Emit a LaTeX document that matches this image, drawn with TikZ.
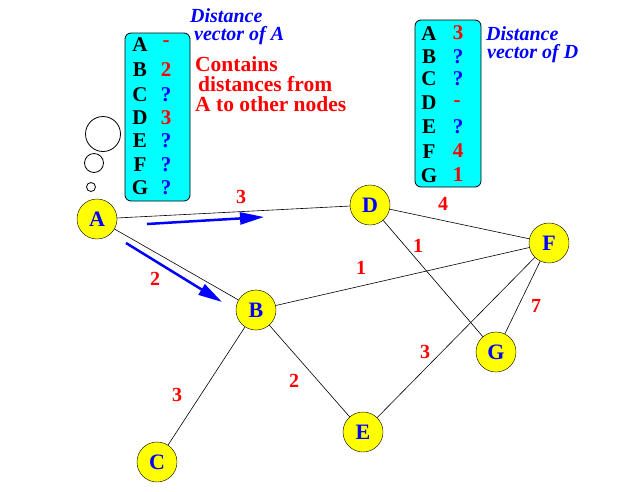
\documentclass[tikz,border=0pt]{standalone}
\usepackage{fontspec}
\setmainfont{Liberation Serif}
\usetikzlibrary{arrows.meta}
\definecolor{nodeyellow}{RGB}{255,255,0}
\definecolor{boxcyan}{RGB}{0,255,255}
\definecolor{txtblue}{RGB}{0,0,255}
\definecolor{txtred}{RGB}{255,0,0}
\begin{document}
\begin{tikzpicture}[x=1pt,y=-1pt,
  router/.style={circle,draw=black,fill=nodeyellow,minimum size=40pt,inner sep=0pt,
    font=\fontsize{22}{22}\selectfont\bfseries,text=txtblue},
  link/.style={draw=black,line width=0.6pt},
  cost/.style={font=\fontsize{20}{20}\selectfont\bfseries,text=txtred},
  vecbox/.style={draw=black,fill=boxcyan,rounded corners=6pt,line width=0.8pt},
  rowname/.style={font=\fontsize{21}{21}\selectfont\bfseries,text=black,inner sep=0pt},
  valred/.style={font=\fontsize{21}{21}\selectfont\bfseries,text=txtred,inner sep=0pt},
  valblue/.style={font=\fontsize{21}{21}\selectfont\bfseries,text=txtblue,inner sep=0pt},
  title/.style={font=\fontsize{20}{20}\selectfont\bfseries\itshape,text=txtblue,
    anchor=base west,inner sep=0pt},
  note/.style={font=\fontsize{21.5}{21.5}\selectfont\bfseries,text=txtred,
    anchor=base west,inner sep=0pt},
  flow/.style={draw=txtblue,line width=2.5pt,-{Triangle[length=24pt,width=12pt]}},
  bubble/.style={draw=black,line width=0.8pt,fill=white}
]
\useasboundingbox (0,0) rectangle (644,491);

% vector box of A
\draw[vecbox] (125,33) rectangle (190,201);
\foreach \n/\y in {A/45,B/70,C/95,D/118,E/141,F/165,G/188}
  \node[rowname] (ra\n) at (140,\y) {\n};
\node[valred]  (va1) at (166,44) {-};
\node[valred]  (va2) at (166,70) {2};
\node[valblue] (va3) at (166,95) {?};
\node[valred]  (va4) at (166,118) {3};
\node[valblue] (va5) at (166,141) {?};
\node[valblue] (va6) at (166,165) {?};
\node[valblue] (va7) at (166,188) {?};
\node[title] (ta1) at (190,22) {Distance};
\node[title] (ta2) at (194,40) {vector of A};
\node[note] (na1) at (195,71) {Contains};
\node[note] (na2) at (198,91) {distances from};
\node[note] (na3) at (195,111) {A to other nodes};

% thought bubbles
\draw[bubble] (103,134) circle (17.5);
\draw[bubble] (94,163) circle (9.5);
\draw[bubble] (91,187) circle (4.5);

% vector box of D
\draw[vecbox] (415,20) rectangle (481,187);
\foreach \n/\y in {A/34,B/57,C/79,D/103,E/127,F/152,G/176}
  \node[rowname] (rd\n) at (429,\y) {\n};
\node[valred]  (vd1) at (458,33) {3};
\node[valblue] (vd2) at (458,57) {?};
\node[valblue] (vd3) at (458,79) {?};
\node[valred]  (vd4) at (457,104) {-};
\node[valblue] (vd5) at (458,127) {?};
\node[valred]  (vd6) at (458,151) {4};
\node[valred]  (vd7) at (458,175) {1};
\node[title] (td1) at (486,40) {Distance};
\node[title] (td2) at (487,58.5) {vector of D};

% routers
\node[router] (A) at (97,219) {A};
\node[router] (D) at (370,205) {D};
\node[router] (B) at (256,310) {B};
\node[router] (F) at (549,243) {F};
\node[router] (G) at (496,352) {G};
\node[router] (E) at (363,432) {E};
\node[router] (C) at (157,462) {C};

% links
\draw[link] (A) -- (D);
\draw[link] (A) -- (B);
\draw[link] (D) -- (F);
\draw[link] (D) -- (G);
\draw[link] (B) -- (F);
\draw[link] (B) -- (C);
\draw[link] (B) -- (E);
\draw[link] (E) -- (F);
\draw[link] (F) -- (G);

% costs
\node[cost] (c1) at (241,197) {3};
\node[cost] (c2) at (443,204) {4};
\node[cost] (c3) at (418,246) {1};
\node[cost] (c4) at (361,268) {1};
\node[cost] (c5) at (155,279) {2};
\node[cost] (c6) at (536,306) {7};
\node[cost] (c7) at (425,352) {3};
\node[cost] (c8) at (294,381) {2};
\node[cost] (c9) at (177,395) {3};

% advertisement arrows
\coordinate (f1s) at (147,224);
\coordinate (f1e) at (264,217);
\coordinate (f2s) at (126,243);
\coordinate (f2e) at (222,302);
\draw[flow] (f1s) -- (f1e);
\draw[flow] (f2s) -- (f2e);
\end{tikzpicture}
\end{document}
